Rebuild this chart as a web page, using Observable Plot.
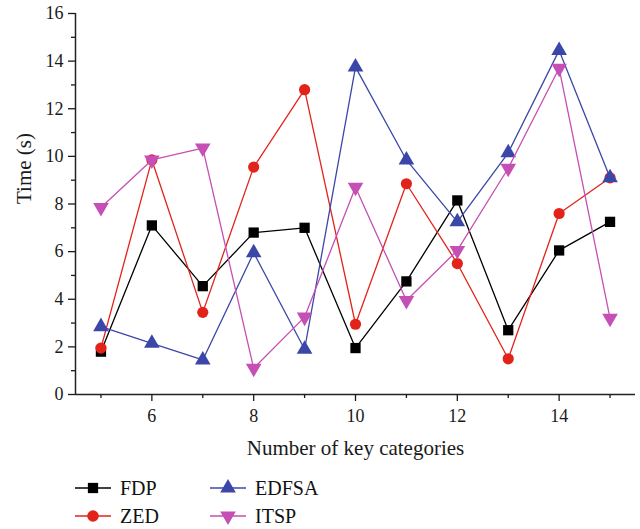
<!DOCTYPE html>
<html><head><meta charset="utf-8">
<script src="https://cdn.jsdelivr.net/npm/d3@7"></script>
<script src="https://cdn.jsdelivr.net/npm/@observablehq/plot@0.6"></script>
<style>
body{margin:0;background:#fff;font-family:"Liberation Serif",serif;}
#wrap{position:relative;width:640px;height:529px;}
.leg{position:absolute;display:flex;align-items:center;font-size:20px;color:#111;}
.leg svg{display:block;margin-right:9px;}
</style>
</head><body>
<div id="wrap"><div id="chart"></div></div>
<script>
const categories = [5, 6, 7, 8, 9, 10, 11, 12, 13, 14, 15];
const fdp   = [1.8, 7.1, 4.55, 6.8, 7.0, 1.95, 4.75, 8.15, 2.7, 6.05, 7.25];
const zed   = [1.95, 9.85, 3.45, 9.55, 12.8, 2.95, 8.85, 5.5, 1.5, 7.6, 9.1];
const edfsa = [2.85, 2.15, 1.45, 5.95, 1.9, 13.75, 9.85, 7.25, 10.15, 14.45, 9.1];
const itsp  = [7.85, 9.85, 10.35, 1.1, 3.25, 8.7, 3.95, 6.05, 9.5, 13.7, 3.2];
const seriesNames = ["FDP", "ZED", "EDFSA", "ITSP"];
const seriesValues = [fdp, zed, edfsa, itsp];
const seriesColors = ["#000000", "#e2231a", "#3b47a8", "#c64fb5"];
const seriesSymbols = ["square", "circle", "triangle", "triangle"];
const seriesRotate = [0, 0, 0, 180];
const xMajor = [6, 8, 10, 12, 14];
const xMinor = [5, 7, 9, 11, 13, 15];
const yMajor = [0, 2, 4, 6, 8, 10, 12, 14, 16];
const yMinor = [1, 3, 5, 7, 9, 11, 13, 15];
const xLabel = "Number of key categories";
const yLabel = "Time (s)";

const rows = [];
seriesNames.forEach((s, i) => categories.forEach((c, j) => rows.push({series: s, x: c, y: seriesValues[i][j], idx: i})));

const marks = [
  Plot.ruleY([0], {stroke: "#222", strokeWidth: 1.5}),
  Plot.ruleX([4.5], {y1: 0, y2: 16, stroke: "#222", strokeWidth: 1.5}),
  Plot.axisY({ticks: yMajor, tickSize: 7, tickPadding: 5, strokeWidth: 1.3, label: null}),
  Plot.axisY({ticks: yMinor, tickSize: 4, strokeWidth: 1.3, text: null, label: null}),
  Plot.axisX({ticks: xMajor, tickSize: 7, tickPadding: 8, strokeWidth: 1.3, label: null}),
  Plot.axisX({ticks: xMinor, tickSize: 4, strokeWidth: 1.3, text: null, label: null}),
  Plot.text([xLabel], {frameAnchor: "bottom", dy: 54, text: d => d, fontSize: 21, fill: "#1a1a1a", lineAnchor: "middle"}),
  Plot.text([yLabel], {frameAnchor: "left", dx: -51, text: d => d, fontSize: 21, fill: "#1a1a1a", rotate: -90, lineAnchor: "middle"})
];
seriesNames.forEach((s, i) => {
  const d = rows.filter(r => r.idx === i);
  marks.push(Plot.line(d, {x: "x", y: "y", stroke: seriesColors[i], strokeWidth: 1.3}));
  marks.push(Plot.dot(d, {x: "x", y: "y", fill: seriesColors[i], stroke: "none", symbol: seriesSymbols[i], rotate: seriesRotate[i], r: i === 1 ? 5.6 : 5.8}));
});

const chart = Plot.plot({
  width: 640, height: 470,
  marginLeft: 75, marginRight: 5, marginTop: 13, marginBottom: 76,
  style: {fontFamily: "Liberation Serif, serif", fontSize: "18px", color: "#1a1a1a", background: "#fff"},
  x: {domain: [4.5, 15.5]},
  y: {domain: [0, 16]},
  marks
});
document.getElementById("chart").appendChild(chart);

// Legend (below the SVG)
const legPos = [[75, 488], [75, 516], [210, 488], [210, 516]];
const wrap = document.getElementById("wrap");
seriesNames.forEach((s, i) => {
  const div = document.createElement("div");
  div.className = "leg";
  div.style.left = legPos[i][0] + "px";
  div.style.top = (legPos[i][1] - 12) + "px";
  div.style.height = "24px";
  const sym = {square: d3.symbolSquare, circle: d3.symbolCircle, triangle: d3.symbolTriangle}[seriesSymbols[i]];
  const size = Math.PI * 5.8 * 5.8;
  div.innerHTML = `<svg width="36" height="24"><line x1="0" x2="36" y1="12" y2="12" stroke="${seriesColors[i]}" stroke-width="1.3"/><path transform="translate(18,12) rotate(${seriesRotate[i]})" d="${d3.symbol(sym, size)()}" fill="${seriesColors[i]}"/></svg><span>${s}</span>`;
  wrap.appendChild(div);
});
</script>
</body></html>
